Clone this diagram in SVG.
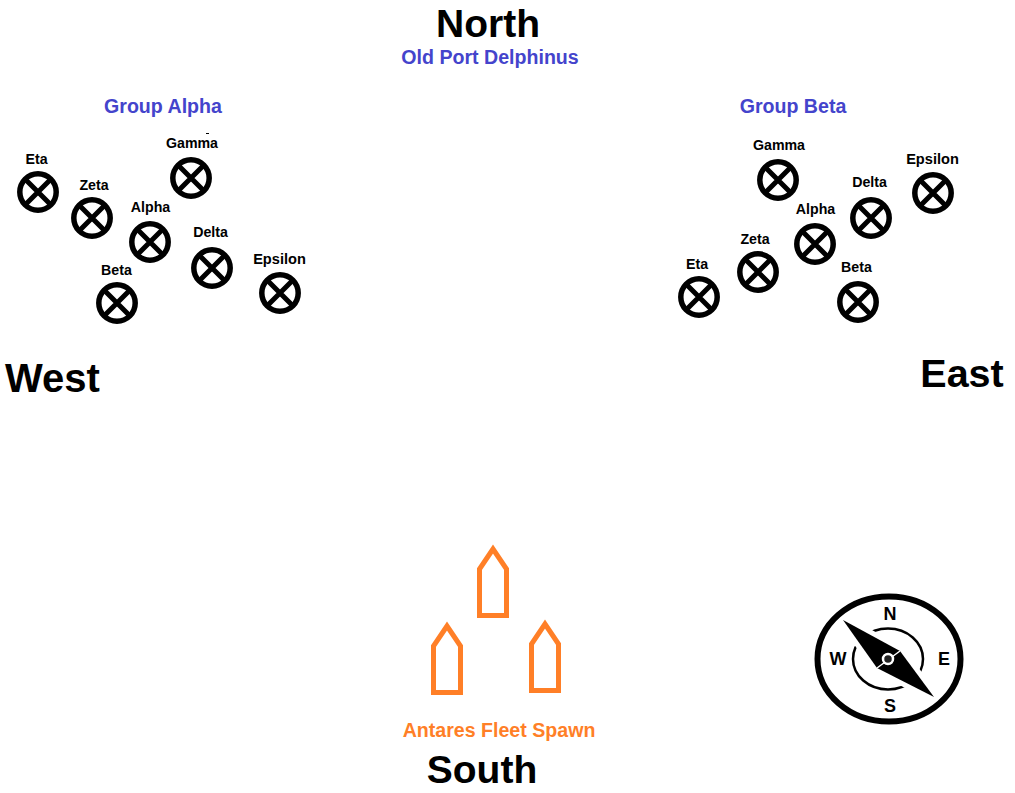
<svg xmlns="http://www.w3.org/2000/svg" width="1015" height="793" viewBox="0 0 1015 793">
<style>
text{font-family:"Liberation Sans",Arial,sans-serif;font-weight:bold;text-anchor:middle}
.dir{font-size:39px;fill:#000}
.blue{font-size:19.6px;fill:#4444cc}
.lab{font-size:14.2px;fill:#000}
.eps{font-size:14.6px}
.cmp{font-size:18px;fill:#000}
.ship{fill:none;stroke:#ff7f27;stroke-width:5;stroke-linejoin:miter;stroke-miterlimit:8}
.mk circle{fill:#fff;stroke:#000;stroke-width:5.500}
.mk path{fill:none;stroke:#000;stroke-width:5}
</style>
<defs>
<g id="m" class="mk"><circle r="18.200"/><path d="M-13-13L13 13M13-13L-13 13"/></g>
<path id="s" class="ship" d="M-13.5 66.500V20L0 0L13.500 20V66.500Z"/>
<clipPath id="inner"><ellipse cx="888" cy="659" rx="42" ry="38"/></clipPath>
</defs>
<rect width="1015" height="793" fill="#fff"/>
<g id="titles">
<text class="dir" x="488" y="37">North</text>
<text class="blue" x="490" y="64">Old Port Delphinus</text>
<text class="blue" x="163" y="113">Group Alpha</text>
<text class="blue" x="793" y="113">Group Beta</text>
<text class="dir" x="52.500" y="392" style="font-size:40px">West</text>
<text class="dir" x="962" y="387" style="font-size:39.500px">East</text>
<text class="dir" x="482" y="783">South</text>
<text x="499" y="737" style="font-size:19.600px;fill:#ff7f27">Antares Fleet Spawn</text>
</g>
<g id="alpha-eta"><use href="#m" x="38" y="192"/><text class="lab" x="36.500" y="164">Eta</text></g>
<g id="alpha-zeta"><use href="#m" x="92" y="218"/><text class="lab" x="94" y="190">Zeta</text></g>
<g id="alpha-alpha"><use href="#m" x="150" y="242"/><text class="lab" x="150.500" y="212">Alpha</text></g>
<g id="alpha-gamma"><use href="#m" x="191" y="178"/><text class="lab" x="192" y="148">Gamma</text><rect x="206" y="133" width="3" height="1" fill="#000"/></g>
<g id="alpha-delta"><use href="#m" x="212" y="268"/><text class="lab" x="210.500" y="237">Delta</text></g>
<g id="alpha-epsilon"><use href="#m" x="280" y="293"/><text class="lab eps" x="279.500" y="264">Epsilon</text></g>
<g id="alpha-beta"><use href="#m" x="117" y="303"/><text class="lab" x="116.500" y="275">Beta</text></g>
<g id="beta-gamma"><use href="#m" x="778" y="180"/><text class="lab" x="779" y="150">Gamma</text></g>
<g id="beta-delta"><use href="#m" x="871" y="218"/><text class="lab" x="869.500" y="187">Delta</text></g>
<g id="beta-epsilon"><use href="#m" x="933" y="193"/><text class="lab eps" x="932.500" y="164">Epsilon</text></g>
<g id="beta-alpha"><use href="#m" x="815" y="244"/><text class="lab" x="815.500" y="214">Alpha</text></g>
<g id="beta-zeta"><use href="#m" x="758" y="272"/><text class="lab" x="755" y="244">Zeta</text></g>
<g id="beta-eta"><use href="#m" x="699" y="297"/><text class="lab" x="697" y="269">Eta</text></g>
<g id="beta-beta"><use href="#m" x="858" y="302"/><text class="lab" x="856.500" y="272">Beta</text></g>
<g id="ship-top"><use href="#s" x="493" y="549"/></g>
<g id="ship-left"><use href="#s" x="447" y="626"/></g>
<g id="ship-right"><use href="#s" x="545" y="624"/></g>
<g id="compass">
<ellipse cx="889" cy="659" rx="71.500" ry="62.500" fill="#fff" stroke="#000" stroke-width="6"/>
<ellipse cx="888" cy="659" rx="35" ry="30.500" fill="none" stroke="#000" stroke-width="2.500"/>
<path clip-path="url(#inner)" d="M843 620L900 651L934 697L877 668Z" fill="#fff" stroke="#fff" stroke-width="10" stroke-linejoin="round"/>
<path d="M843 620L900 651L934 697L877 668Z" fill="#000"/>
<path d="M877 668L900 651" fill="none" stroke="#fff" stroke-width="1.500"/>
<circle cx="888" cy="659" r="5" fill="#222" stroke="#fff" stroke-width="2.500"/>
<text class="cmp" x="890" y="620">N</text>
<text class="cmp" x="838" y="665">W</text>
<text class="cmp" x="944" y="665">E</text>
<text class="cmp" x="890" y="712">S</text>
</g>
<g id="connectors"/>
</svg>
